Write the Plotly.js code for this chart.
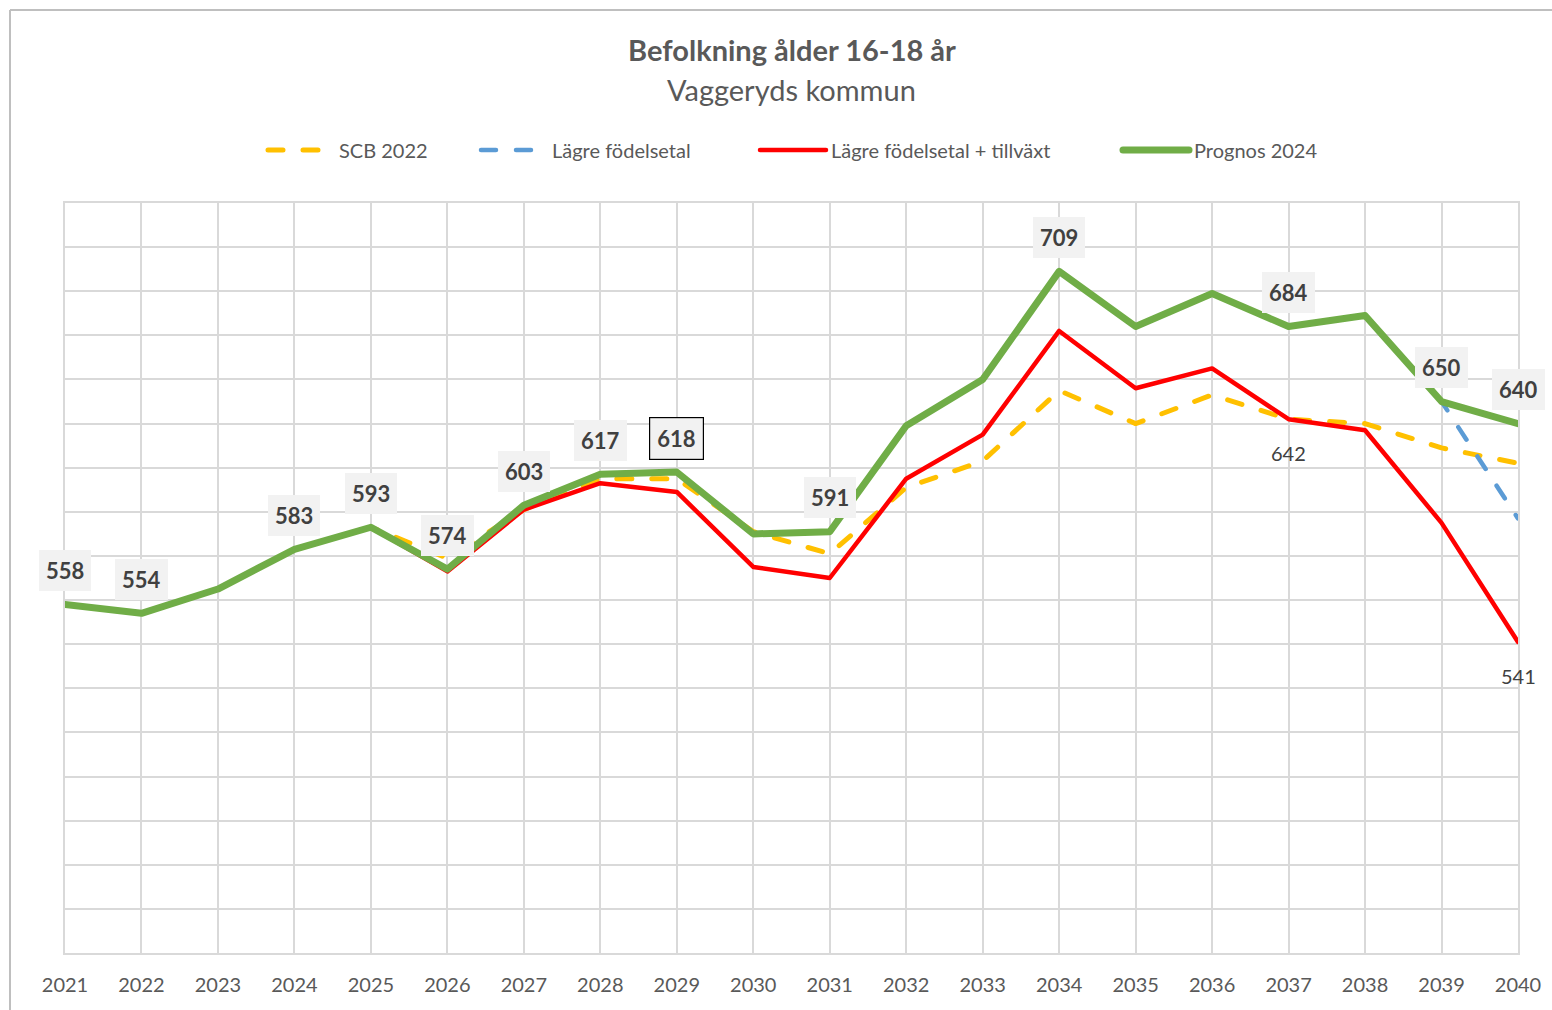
<!DOCTYPE html>
<html>
<head>
<meta charset="utf-8">
<script src="https://cdn.plot.ly/plotly-3.0.1.min.js"></script>
<style>
  html, body { margin: 0; padding: 0; background: #fff; }
  #chart { width: 1552px; height: 1010px; }
  .scatterlayer .js-line { stroke-linecap: round; stroke-linejoin: round; }
  .legendlines path { stroke-linecap: round; }
</style>
</head>
<body>
<div id="chart"></div>
<script>
const years = [2021,2022,2023,2024,2025,2026,2027,2028,2029,2030,2031,2032,2033,2034,2035,2036,2037,2038,2039,2040];
const scb2022 = [558,554,565,583,593,579,601,615,615,591,581,611,623,655,640,653,642,640,629,622];
const lagreFodelsetal = [558,554,565,583,593,574,603,617,618,590,591,639,660,709,684,699,684,689,650,597];
const lagreTillvaxt = [558,554,565,583,593,573,601,613,609,575,570,615,635,682,656,665,642,637,595,541];
const prognos2024 = [558,554,565,583,593,574,603,617,618,590,591,639,660,709,684,699,684,689,650,640];

const seriesNames = ['SCB 2022', 'Lägre födelsetal', 'Lägre födelsetal + tillväxt', 'Prognos 2024'];
const prognosLabelYears = [2021,2022,2024,2025,2026,2027,2028,2029,2031,2034,2037,2039,2040];
const boxedLabelYear = 2029;
const tillvaxtLabelYears = [2037,2040];

const traces = [
  {x: years, y: scb2022, name: seriesNames[0], type: 'scatter', mode: 'lines', legend: 'legend',
   line: {color: '#FFC000', width: 5, dash: '15px,20px'}},
  {x: years, y: lagreFodelsetal, name: seriesNames[1], type: 'scatter', mode: 'lines', legend: 'legend2',
   line: {color: '#5B9BD5', width: 4.5, dash: '15px,20px'}},
  {x: years, y: lagreTillvaxt, name: seriesNames[2], type: 'scatter', mode: 'lines', legend: 'legend3',
   line: {color: '#FF0000', width: 4.5}},
  {x: years, y: prognos2024, name: seriesNames[3], type: 'scatter', mode: 'lines', legend: 'legend4',
   line: {color: '#70AD47', width: 7}}
];

const annotations = [];
prognosLabelYears.forEach(yr => {
  const i = years.indexOf(yr);
  const boxed = yr === boxedLabelYear;
  annotations.push({
    x: yr, y: prognos2024[i], xref: 'x', yref: 'y',
    text: '<b>' + prognos2024[i] + '</b>', showarrow: false, yshift: 34,
    font: {family: 'Lato, sans-serif', size: 22, color: '#404040'},
    bgcolor: '#F2F2F2', borderpad: 7,
    bordercolor: boxed ? '#000000' : 'rgba(0,0,0,0)', borderwidth: boxed ? 1.2 : 0
  });
});
tillvaxtLabelYears.forEach(yr => {
  const i = years.indexOf(yr);
  annotations.push({
    x: yr, y: lagreTillvaxt[i], xref: 'x', yref: 'y',
    text: String(lagreTillvaxt[i]), showarrow: false, yshift: -34,
    font: {family: 'Lato, sans-serif', size: 20, color: '#404040'}
  });
});
// subtitle
annotations.push({
  xref: 'paper', yref: 'paper', x: (791 - 65) / 1453, y: (953 - 90) / 750,
  xanchor: 'center', yanchor: 'middle', showarrow: false,
  text: 'Vaggeryds kommun',
  font: {family: 'Lato, sans-serif', size: 29, color: '#595959'}
});

function legendAt(px) {
  return {
    orientation: 'h', x: (px - 65) / 1453, xanchor: 'left',
    y: (953 - 150) / 750, yanchor: 'middle',
    font: {family: 'Lato, sans-serif', size: 20, color: '#595959'},
    itemwidth: 66, bgcolor: 'rgba(0,0,0,0)', borderwidth: 0
  };
}

const layout = {
  width: 1552, height: 1010,
  margin: {l: 65, r: 34, t: 203, b: 57},
  paper_bgcolor: '#ffffff', plot_bgcolor: '#ffffff',
  title: {
    text: '<b>Befolkning ålder 16-18 år</b>',
    font: {family: 'Lato, sans-serif', size: 29, color: '#595959'},
    x: 792 / 1552, xanchor: 'center', xref: 'container',
    y: 1 - 51 / 1010, yanchor: 'middle', yref: 'container'
  },
  showlegend: true,
  legend: legendAt(263),
  legend2: legendAt(476),
  legend3: legendAt(755),
  legend4: legendAt(1118),
  xaxis: {
    range: [2021, 2040], tickmode: 'array', tickvals: years, ticktext: years.map(String),
    showgrid: true, gridcolor: '#D9D9D9', gridwidth: 2,
    showline: true, linecolor: '#D9D9D9', linewidth: 2, mirror: true,
    zeroline: false, ticks: '', ticklabelstandoff: 13,
    tickfont: {family: 'Lato, sans-serif', size: 20, color: '#595959'},
    fixedrange: true
  },
  yaxis: {
    range: [400, 740], dtick: 20, tick0: 400,
    showgrid: true, gridcolor: '#D9D9D9', gridwidth: 2,
    showline: true, linecolor: '#D9D9D9', linewidth: 2, mirror: true,
    zeroline: false, showticklabels: false, ticks: '', fixedrange: true
  },
  annotations: annotations,
  shapes: [
    {type: 'line', xref: 'paper', yref: 'paper', x0: (10 - 65) / 1453, x1: (1552 - 65) / 1453,
     y0: (953 - 10) / 750, y1: (953 - 10) / 750, line: {color: '#BFBFBF', width: 2}},
    {type: 'line', xref: 'paper', yref: 'paper', x0: (10 - 65) / 1453, x1: (10 - 65) / 1453,
     y0: (953 - 10) / 750, y1: (953 - 1010) / 750, line: {color: '#BFBFBF', width: 2}}
  ]
};

Plotly.newPlot('chart', traces, layout, {displayModeBar: false, staticPlot: true});
</script>
</body>
</html>
